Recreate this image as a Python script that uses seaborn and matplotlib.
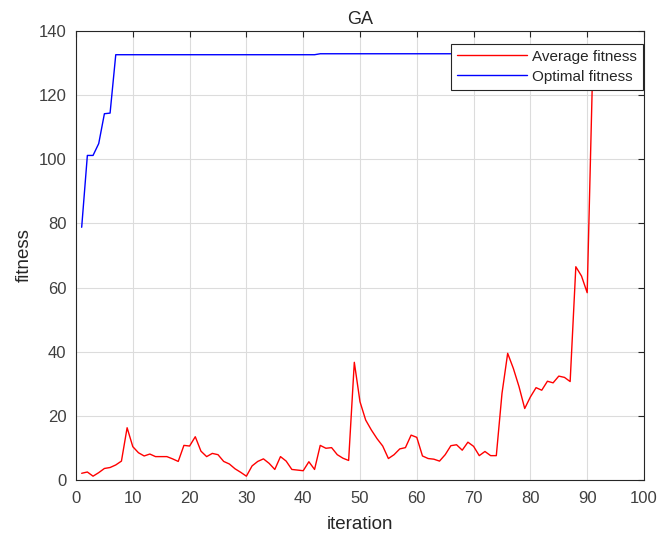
import numpy as np
import pandas as pd
import matplotlib
matplotlib.use("Agg")
import matplotlib.pyplot as plt
import seaborn as sns

# iterations 1..100
iteration = list(range(1, 101))

avg_fitness = [
    2.1, 2.5, 1.2, 2.3, 3.6, 3.9, 4.7, 5.9, 16.3, 10.4,
    8.5, 7.5, 8.1, 7.3, 7.3, 7.3, 6.6, 5.8, 10.8, 10.6,
    13.5, 9.0, 7.3, 8.3, 7.9, 5.8, 5.0, 3.5, 2.4, 1.2,
    4.4, 5.8, 6.6, 5.2, 3.3, 7.3, 5.9, 3.3, 3.1, 2.9,
    5.7, 3.3, 10.8, 9.9, 10.1, 7.9, 6.8, 6.1, 36.7, 24.4,
    18.7, 15.6, 12.9, 10.6, 6.7, 7.9, 9.7, 10.1, 14.0, 13.3,
    7.5, 6.7, 6.5, 5.9, 7.9, 10.7, 11.0, 9.3, 11.8, 10.5,
    7.6, 8.9, 7.6, 7.6, 27.0, 39.5, 34.8, 29.1, 22.3, 25.9,
    28.8, 28.0, 30.8, 30.3, 32.4, 32.0, 30.7, 66.5, 63.6, 58.4,
    130.8, 131.0, 131.0, 131.1, 131.1, 131.2, 131.2, 131.3, 131.4, 131.5,
]

opt_fitness = (
    [78.8, 101.2, 101.2, 104.9, 114.2, 114.4]
    + [132.6] * 36
    + [132.9] * 58
)

df = pd.DataFrame({
    "iteration": iteration * 2,
    "fitness": avg_fitness + opt_fitness,
    "series": ["Average fitness"] * 100 + ["Optimal fitness"] * 100,
})

sns.set_theme(style="white")
plt.rcParams["font.family"] = ["Liberation Sans", "DejaVu Sans"]

fig = plt.figure(figsize=(6.58, 5.37), dpi=100)
ax = fig.add_axes([0.1155, 0.1061, 0.8632, 0.8362])

sns.lineplot(data=df, x="iteration", y="fitness", hue="series",
             palette={"Average fitness": "#ff0000", "Optimal fitness": "#0000ff"},
             linewidth=1.0, ax=ax)

ax.set_xlim(0, 100)
ax.set_ylim(0, 140)
ax.set_xticks(np.arange(0, 101, 10))
ax.set_yticks(np.arange(0, 141, 20))
ax.grid(True, color="#dcdcdc", linewidth=0.8)
ax.tick_params(direction="in", length=4, width=0.8, labelsize=12,
               top=True, right=True, colors="#262626", labelcolor="#404040")
ax.tick_params(axis="x", pad=8)
ax.tick_params(axis="y", pad=7)
for s in ax.spines.values():
    s.set_color("#262626")
    s.set_linewidth(0.8)

ax.set_xlabel("iteration", fontsize=13.5, color="#262626", labelpad=7)
ax.set_ylabel("fitness", fontsize=13.5, color="#262626", labelpad=4)
ax.set_title("GA", fontsize=13, color="#262626", pad=5)

leg = ax.legend(loc="upper right", bbox_to_anchor=(0.998, 0.972),
                borderaxespad=0, fontsize=11, handlelength=4.6,
                frameon=True, fancybox=False, framealpha=1,
                borderpad=0.4, labelspacing=0.4, handletextpad=0.3)
leg.get_frame().set_edgecolor("#262626")
leg.get_frame().set_linewidth(0.8)

fig.savefig("out.png", dpi=100)
